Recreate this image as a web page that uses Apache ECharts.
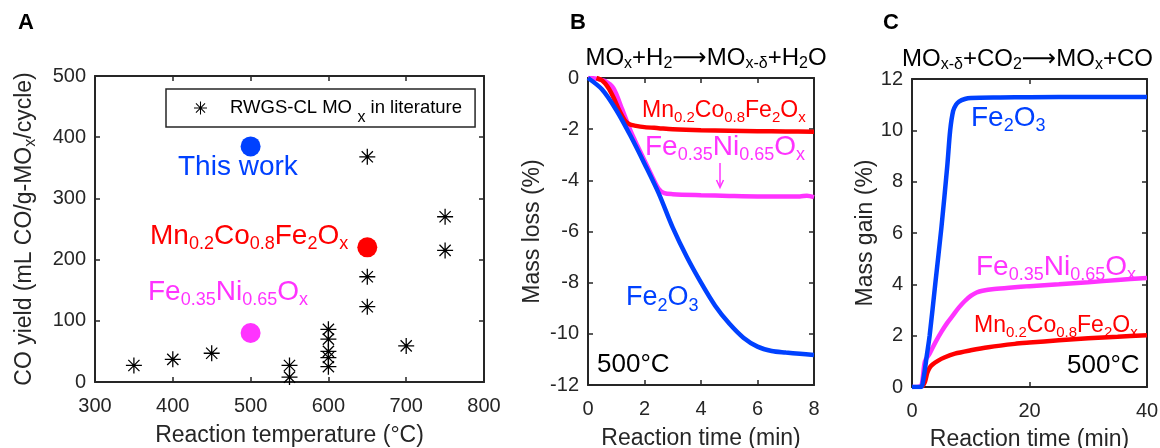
<!DOCTYPE html>
<html><head><meta charset="utf-8">
<script src="https://cdn.jsdelivr.net/npm/echarts@6/dist/echarts.min.js"></script>
<style>html,body{margin:0;padding:0;background:#fff}#c{width:1160px;height:448px}</style>
</head><body><div id="c"></div><script>
// ---------- Panel A : CO yield vs temperature ----------
const litTemp  = [350, 400, 450, 550, 550, 600, 600, 600, 600, 600, 650, 650, 650, 700, 750, 750];
const litYield = [27, 37, 47, 27, 8, 86, 70, 50, 40, 25, 368, 172, 123, 59, 270, 215];
const workTemp  = [500, 650, 500];
const workYield = [385, 220, 80];
const workNames = ['This work', 'Mn0.2Co0.8Fe2Ox', 'Fe0.35Ni0.65Ox'];
const aXTicks = [300, 800, 100];
const aYTicks = [0, 500, 100];

// ---------- Panel B : reduction, mass loss ----------
const bTimeFe2O3 = [0, 0.5, 1, 1.5, 2, 2.5, 3, 3.5, 4, 4.5, 5, 5.5, 6, 6.5, 7, 7.5, 8];
const bFe2O3     = [0, -0.45, -1.25, -2.25, -3.35, -4.5, -5.85, -7.0, -8.0, -8.9, -9.6, -10.15, -10.5, -10.67, -10.73, -10.78, -10.83];
const bTimeMnCo  = [0.3, 0.5, 0.7, 0.9, 1.1, 1.3, 1.45, 1.7, 2, 2.5, 3, 4, 5, 6, 7, 8];
const bMnCo      = [0, -0.1, -0.35, -0.75, -1.25, -1.65, -1.8, -1.87, -1.92, -1.96, -2.0, -2.04, -2.06, -2.08, -2.09, -2.1];
const bTimeFeNi  = [0, 0.3, 0.6, 0.9, 1.2, 1.5, 1.75, 2, 2.25, 2.5, 2.7, 3, 4, 5, 6, 7, 7.5, 7.75, 8];
const bFeNi      = [0, -0.03, -0.12, -0.4, -1.2, -2.05, -2.65, -3.22, -3.8, -4.33, -4.5, -4.54, -4.58, -4.61, -4.63, -4.63, -4.63, -4.6, -4.66];
const bXTicks = [0, 8, 2];
const bYTicks = [-12, 0, 2];

// ---------- Panel C : oxidation, mass gain ----------
const cTimeFe2O3 = [0, 1.5, 2, 2.5, 3, 4, 5, 6, 6.5, 7, 7.5, 8, 9, 10, 15, 20, 30, 40];
const cFe2O3     = [0, 0, 0.4, 1.2, 2.0, 4.1, 6.2, 8.6, 10.0, 10.75, 11.0, 11.12, 11.22, 11.26, 11.28, 11.29, 11.3, 11.3];
const cTimeFeNi  = [0, 1.5, 1.8, 2.2, 3, 4, 5, 6, 7, 8, 9, 10, 11, 12, 14, 17, 20, 25, 30, 35, 40];
const cFeNi      = [0, 0.05, 0.3, 1.0, 1.3, 1.75, 2.15, 2.5, 2.8, 3.1, 3.35, 3.55, 3.68, 3.75, 3.82, 3.88, 3.93, 4.0, 4.08, 4.17, 4.25];
const cTimeMnCo  = [1.7, 2.2, 2.6, 3, 3.5, 4.4, 5.5, 7.3, 10, 13, 17.5, 20, 25, 30, 35, 40];
const cMnCo      = [0, 0.2, 0.55, 0.75, 0.88, 1.02, 1.15, 1.3, 1.43, 1.55, 1.68, 1.73, 1.82, 1.9, 1.96, 2.02];
const cXTicks = [0, 40, 20];
const cYTicks = [0, 12, 2];

// ---------- styling ----------
const FONT = "'Liberation Sans', Arial, Helvetica, 'DejaVu Sans', sans-serif";
const AXC = '#262626';
const BLUE = '#0041ff', RED = '#ff0000', MAG = '#ff33ff';
const workColors = [BLUE, RED, MAG];
const ASTER = 'path://M4.6 0L5.4 0L5.4 10L4.6 10Z M0 4.6L10 4.6L10 5.4L0 5.4Z M1.22 1.78L1.78 1.22L8.78 8.22L8.22 8.78Z M8.22 1.22L8.78 1.78L1.78 8.78L1.22 8.22Z';
const LIT_NAME = 'RWGS-CL MOx in literature';

const zip = (a, b) => a.map((v, i) => [v, b[i]]);

function axis(t, gi, pos, labels, name, gap, extra) {
  const a = {
    type: 'value', gridIndex: gi, position: pos, min: t[0], max: t[1], interval: t[2],
    splitLine: {show: false},
    axisLine: {show: true, onZero: false, lineStyle: {color: AXC, width: 2}},
    axisTick: {show: true, inside: true, length: 5, lineStyle: {color: AXC, width: 1.5}},
    axisLabel: {show: labels, color: AXC, fontSize: 20, fontFamily: FONT,
                margin: (pos === 'bottom' || pos === 'top') ? 14 : 9},
  };
  if (name) {
    a.name = name; a.nameLocation = 'middle'; a.nameGap = gap;
    a.nameTextStyle = Object.assign({color: AXC, fontSize: 23, fontFamily: FONT}, extra || {});
  }
  return a;
}

const grids = [
  {left: 95, top: 76, width: 389, height: 306, outerBoundsMode: 'none', containLabel: false},
  {left: 588, top: 78, width: 226, height: 307, outerBoundsMode: 'none', containLabel: false},
  {left: 912, top: 79, width: 235, height: 308, outerBoundsMode: 'none', containLabel: false},
];

const xAxes = [
  axis(aXTicks, 0, 'bottom', true, 'Reaction temperature (°C)', 42),
  axis(aXTicks, 0, 'top', false),
  axis(bXTicks, 1, 'bottom', true, 'Reaction time (min)', 42),
  axis(bXTicks, 1, 'top', false),
  axis(cXTicks, 2, 'bottom', true, 'Reaction time (min)', 41),
  axis(cXTicks, 2, 'top', false),
];
const yAxes = [
  axis(aYTicks, 0, 'left', true, '{m|CO yield (mL CO/g-MO}{s|x}{m|/cycle)}', 57, {
    rich: {m: {fontSize: 23, fontFamily: FONT, color: AXC, lineHeight: 26},
           s: {fontSize: 16, fontFamily: FONT, color: AXC, lineHeight: 26, padding: [12, 0, 0, 0]}}}),
  axis(aYTicks, 0, 'right', false),
  axis(bYTicks, 1, 'left', true, 'Mass loss (%)', 44),
  axis(bYTicks, 1, 'right', false),
  axis(cYTicks, 2, 'left', true, 'Mass gain (%)', 35),
  axis(cYTicks, 2, 'right', false),
];

function line(name, xi, yi, t, v, color) {
  return {name, type: 'line', xAxisIndex: xi, yAxisIndex: yi, data: zip(t, v),
    showSymbol: false, smooth: 0.3,
    lineStyle: {color, width: 4.5}, itemStyle: {color}, silent: true, animation: false};
}

const series = [
  {name: LIT_NAME, type: 'scatter', xAxisIndex: 0, yAxisIndex: 0, data: zip(litTemp, litYield),
   symbol: ASTER, symbolSize: 16, itemStyle: {color: '#000', opacity: 1}, animation: false},
  {name: 'Oxygen carriers', type: 'scatter', xAxisIndex: 0, yAxisIndex: 0,
   data: workTemp.map((t, i) => ({name: workNames[i], value: [t, workYield[i]], itemStyle: {color: workColors[i], opacity: 1}})),
   symbol: 'circle', symbolSize: 20, itemStyle: {opacity: 1}, animation: false},
  line('FeNi-B', 2, 2, bTimeFeNi, bFeNi, MAG),
  line('MnCo-B', 2, 2, bTimeMnCo, bMnCo, RED),
  line('Fe2O3-B', 2, 2, bTimeFe2O3, bFe2O3, BLUE),
  line('FeNi-C', 4, 4, cTimeFeNi, cFeNi, MAG),
  line('MnCo-C', 4, 4, cTimeMnCo, cMnCo, RED),
  line('Fe2O3-C', 4, 4, cTimeFe2O3, cFe2O3, BLUE),
];

// rich text annotation helper
function rt(x, y, text, color, size, sub, shift, align) {
  return {type: 'text', x, y, silent: true, z: 100, style: {
    text, fill: color, align: align || 'left', verticalAlign: 'middle',
    fontSize: size, fontFamily: FONT,
    rich: {
      m: {fontSize: size, fontFamily: FONT, fill: color, lineHeight: size + 4},
      s: {fontSize: sub, fontFamily: FONT, fill: color, lineHeight: size + 4, padding: [shift * 2, 0, 0, 0]},
      b: {fontSize: size, fontFamily: FONT, fill: color, fontWeight: 'bold', lineHeight: size + 4}
    }}};
}
const mnco = '{m|Mn}{s|0.2}{m|Co}{s|0.8}{m|Fe}{s|2}{m|O}{s|x}';
const feni = '{m|Fe}{s|0.35}{m|Ni}{s|0.65}{m|O}{s|x}';
const fe2o3 = '{m|Fe}{s|2}{m|O}{s|3}';

const graphic = [
  rt(18, 23, '{b|A}', '#000', 22, 14, 0),
  rt(570, 23, '{b|B}', '#000', 22, 14, 0),
  rt(883, 23, '{b|C}', '#000', 22, 14, 0),
  // panel A labels
  rt(178, 167, '{m|This work}', BLUE, 28, 18, 0),
  rt(150, 236, mnco, RED, 28, 18, 8.5),
  rt(148, 292, feni, MAG, 28, 18, 8.5),
  // panel B
  rt(706, 58, '{m|MO}{s|x}{m|+H}{s|2}{m|⟶MO}{s|x-δ}{m|+H}{s|2}{m|O}', '#000', 24, 16, 6, 'center'),
  rt(642, 111, mnco, RED, 23, 15, 7),
  rt(645, 147, feni, MAG, 28, 18, 8.5),
  rt(626, 298, fe2o3, BLUE, 27, 18, 8),
  rt(597, 365, '{m|500°C}', '#000', 26, 16, 0),
  {type: 'line', silent: true, shape: {x1: 720, y1: 163, x2: 720, y2: 187}, style: {stroke: MAG, lineWidth: 1.5}},
  {type: 'polyline', silent: true, shape: {points: [[716.5, 180], [720, 187.5], [723.5, 180]]}, style: {stroke: MAG, lineWidth: 1.5, fill: null}},
  // panel C
  rt(902, 59, '{m|MO}{s|x-δ}{m|+CO}{s|2}{m|⟶MO}{s|x}{m|+CO}', '#000', 24, 16, 6),
  rt(971, 118, fe2o3, BLUE, 28, 18, 8.5),
  rt(976, 267, feni, MAG, 28, 18, 8.5),
  rt(974, 326, mnco, RED, 23, 15, 7),
  rt(1067, 366, '{m|500°C}', '#000', 26, 16, 0),
];

const chart = echarts.init(document.getElementById('c'), null, {renderer: 'canvas'});
chart.setOption({
  animation: false,
  backgroundColor: '#fff',
  textStyle: {fontFamily: FONT},
  grid: grids,
  xAxis: xAxes,
  yAxis: yAxes,
  legend: {
    data: [LIT_NAME], left: 166, top: 89, padding: [1, 13, 1, 28],
    itemWidth: 13, itemHeight: 13, icon: ASTER, selectedMode: false,
    borderColor: AXC, borderWidth: 1.5, borderRadius: 0,
    formatter: () => '{p|RWGS-CL MO}{s| x}{n| in literature}',
    textStyle: {color: '#000', fontSize: 18.5, fontFamily: FONT, rich: {
      p: {fontSize: 18.5, fontFamily: FONT, color: '#000', lineHeight: 20, padding: [0, 0, 0, 18]},
      n: {fontSize: 18.5, fontFamily: FONT, color: '#000', lineHeight: 20},
      s: {fontSize: 16, fontFamily: FONT, color: '#000', lineHeight: 20, padding: [20, 0, 0, 1]}
    }}
  },
  series,
  graphic
});
</script></body></html>
